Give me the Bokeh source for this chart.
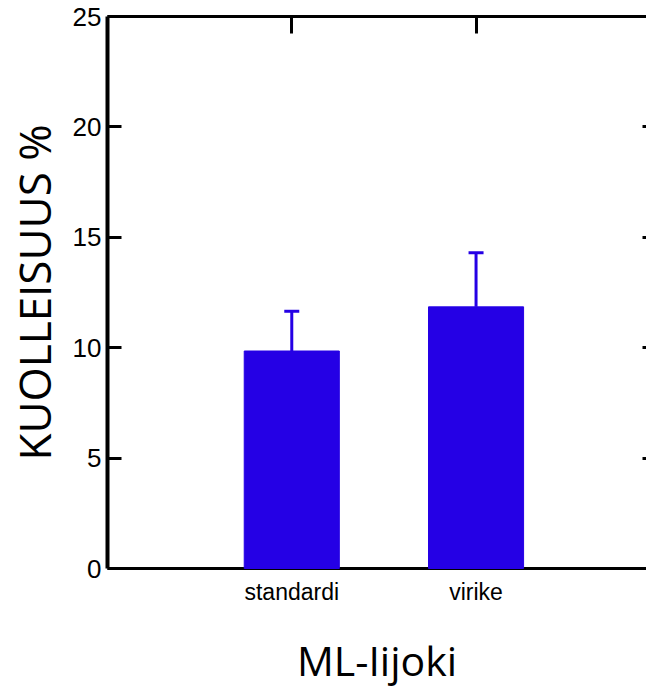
from bokeh.plotting import figure
from bokeh.models import Range1d, FixedTicker, LinearAxis, Whisker, TeeHead, ColumnDataSource
from bokeh.embed import file_html
from bokeh.resources import INLINE

categories = ["standardi", "virike"]
positions = [1, 2]
means = [9.85, 11.85]
upper_err = [11.65, 14.3]
y_ticks = [0, 5, 10, 15, 20, 25]
right_ticks = [5, 10, 15, 20]
x_title = "ML-Iijoki"
y_title = "KUOLLEISUUS %"

BLUE = "#2500E5"

src = ColumnDataSource(dict(x=positions, top=means, upper=upper_err))

p = figure(width=646, height=690, output_backend="svg", toolbar_location=None,
           x_range=Range1d(0, 2.925), y_range=Range1d(0, 25),
           min_border_left=107, min_border_right=0, min_border_top=16, min_border_bottom=120,
           x_axis_location="below", y_axis_location="left")
p.outline_line_color = None
p.background_fill_color = "white"
p.border_fill_color = "white"
p.xgrid.visible = False
p.ygrid.visible = False

p.vbar(x="x", top="top", width=0.516, bottom=0, source=src, fill_color=BLUE,
       line_color=BLUE, line_width=1, level="overlay")
w = Whisker(source=src, base="x", upper="upper", lower="top",
            line_color=BLUE, line_width=3,
            upper_head=TeeHead(size=15, line_color=BLUE, line_width=3),
            lower_head=None, level="overlay")
p.add_layout(w)

# Left axis
ya = p.yaxis[0]
ya.ticker = FixedTicker(ticks=y_ticks)
ya.axis_line_width = 4
ya.axis_line_color = "black"
ya.major_tick_in = 14
ya.major_tick_out = 0
ya.major_tick_line_width = 3
ya.minor_tick_line_color = None
ya.major_label_standoff = 6
ya.major_label_text_font = "Liberation Sans"
ya.major_label_text_font_size = "26px"
ya.major_label_text_color = "black"
ya.axis_label = y_title
ya.axis_label_text_font = "Open Sans"
ya.axis_label_text_font_style = "normal"
ya.axis_label_text_font_size = "44px"
ya.axis_label_text_color = "black"
ya.axis_label_standoff = 6

# Bottom axis
xa = p.xaxis[0]
xa.ticker = FixedTicker(ticks=positions)
xa.major_label_overrides = {positions[i]: categories[i] for i in range(len(categories))}
xa.axis_line_width = 3
xa.axis_line_color = "black"
xa.major_tick_in = 0
xa.major_tick_out = 0
xa.minor_tick_line_color = None
xa.major_label_standoff = 10
xa.major_label_text_font = "Liberation Sans"
xa.major_label_text_font_size = "23px"
xa.major_label_text_color = "black"
xa.axis_label = x_title
xa.axis_label_text_font = "Open Sans"
xa.axis_label_text_font_style = "normal"
xa.axis_label_text_font_size = "41px"
xa.axis_label_text_color = "black"
xa.axis_label_standoff = 24

# Top axis (ticks pointing down at category positions)
ta = LinearAxis(ticker=FixedTicker(ticks=positions))
ta.axis_line_width = 3
ta.axis_line_color = "black"
ta.major_tick_in = 17
ta.major_tick_out = 0
ta.major_tick_line_width = 3
ta.minor_tick_line_color = None
ta.major_label_overrides = {t: "" for t in positions}
ta.major_label_text_font_size = "1px"
ta.major_label_standoff = 0
p.add_layout(ta, "above")

# Right axis (short inward ticks, no line)
ra = LinearAxis(ticker=FixedTicker(ticks=right_ticks))
ra.axis_line_color = None
ra.major_tick_in = 4
ra.major_tick_out = 0
ra.major_tick_line_width = 3
ra.minor_tick_line_color = None
ra.major_label_overrides = {t: "" for t in right_ticks}
ra.major_label_text_font_size = "1px"
ra.major_label_standoff = 0
p.add_layout(ra, "right")

open("out.html", "w").write(file_html(p, INLINE))
